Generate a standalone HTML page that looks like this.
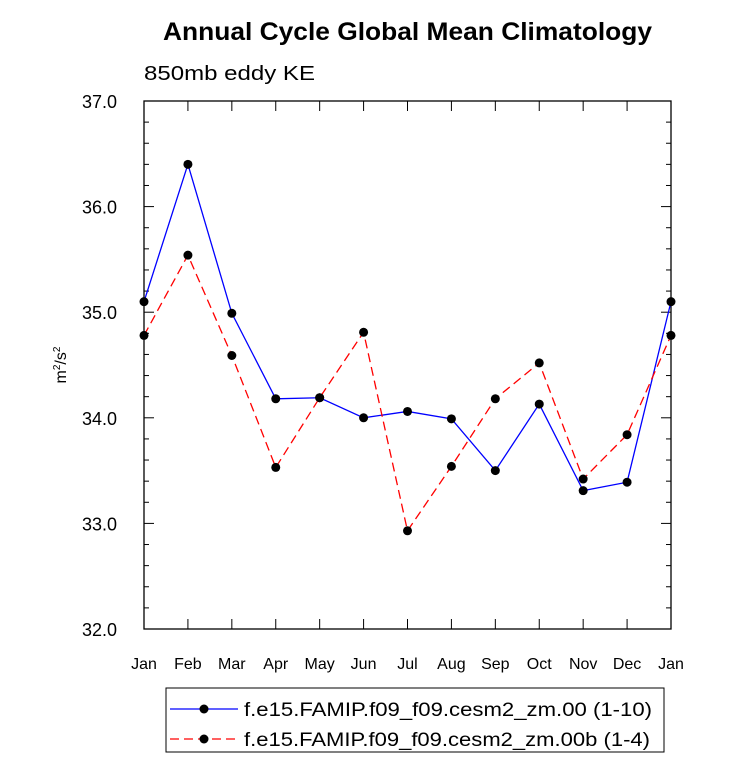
<!DOCTYPE html>
<html><head><meta charset="utf-8"><style>
body{margin:0;background:#fff;}
svg text{font-family:"Liberation Sans",Arial,sans-serif;}
</style></head><body>
<svg id="chart" width="733" height="766" xmlns="http://www.w3.org/2000/svg">
<text x="163" y="40" font-size="25" font-weight="bold" textLength="489" lengthAdjust="spacingAndGlyphs">Annual Cycle Global Mean Climatology</text>
<text x="144" y="80" font-size="20" textLength="171" lengthAdjust="spacingAndGlyphs">850mb eddy KE</text>
<text transform="translate(66,365) rotate(-90)" text-anchor="middle" font-size="16">m<tspan font-size="10" dy="-6">2</tspan><tspan dy="6">/s</tspan><tspan font-size="10" dy="-6">2</tspan></text>
<g id="axes"></g>
<g id="series"></g>
<g>
<rect x="166" y="688" width="498" height="64" fill="#fff" stroke="#000" stroke-width="1"/>
<line x1="170" y1="709" x2="238" y2="709" stroke="#0000ff" stroke-width="1.2"/>
<circle cx="204" cy="709" r="4.5" fill="#000"/>
<text x="244" y="716" font-size="19" textLength="408" lengthAdjust="spacingAndGlyphs">f.e15.FAMIP.f09_f09.cesm2_zm.00 (1-10)</text>
<line x1="170" y1="739" x2="238" y2="739" stroke="#ff0000" stroke-width="1.2" stroke-dasharray="9,5"/>
<circle cx="204" cy="739" r="4.5" fill="#000"/>
<text x="244" y="746" font-size="19" textLength="406" lengthAdjust="spacingAndGlyphs">f.e15.FAMIP.f09_f09.cesm2_zm.00b (1-4)</text>
</g>
</svg>
<script>
const months=["Jan","Feb","Mar","Apr","May","Jun","Jul","Aug","Sep","Oct","Nov","Dec","Jan"];
const seriesA=[35.10,36.40,34.99,34.18,34.19,34.00,34.06,33.99,33.50,34.13,33.31,33.39,35.10];
const seriesB=[34.78,35.54,34.59,33.53,34.19,34.81,32.93,33.54,34.18,34.52,33.42,33.84,34.78];
const yTicks=[32.0,33.0,34.0,35.0,36.0,37.0];
const yMin=32,yMax=37;
const L=144,R=671,T=101,B=629;
const NS="http://www.w3.org/2000/svg";
const xs=i=>L+(R-L)*i/(months.length-1);
const ys=v=>B-(v-yMin)/(yMax-yMin)*(B-T);
function mk(tag,attrs,parent){const e=document.createElementNS(NS,tag);for(const k in attrs)e.setAttribute(k,attrs[k]);parent.appendChild(e);return e;}
const ax=document.getElementById('axes');
const frame=mk('rect',{x:L,y:T,width:R-L,height:B-T,fill:'none',stroke:'#000','stroke-width':1.3},ax);


for(let v=yMin;v<=yMax+1e-9;v+=0.2){
  const y=ys(v);const major=Math.abs(v-Math.round(v))<1e-6;const len=major?10:5;
  mk('line',{x1:L,y1:y,x2:L+len,y2:y,stroke:'#000'},ax);
  mk('line',{x1:R,y1:y,x2:R-len,y2:y,stroke:'#000'},ax);
}
yTicks.forEach(v=>{
  const t=mk('text',{x:L-27,y:ys(v)+7,'text-anchor':'end','font-size':18},ax);
  t.textContent=v.toFixed(1);
  
  
});
months.forEach((m,i)=>{
  const x=xs(i);
  mk('line',{x1:x,y1:B,x2:x,y2:B-10,stroke:'#000'},ax);
  mk('line',{x1:x,y1:T,x2:x,y2:T+10,stroke:'#000'},ax);
  const t=mk('text',{x:x,y:B+40,'text-anchor':'middle','font-size':16},ax);
  t.textContent=m;
  
  
});
const sg=document.getElementById('series');
function draw(vals,color,dash,name){
  const g=mk('g',{},sg);
  
  
  mk('polyline',{points:vals.map((v,i)=>xs(i)+','+ys(v)).join(' '),fill:'none',stroke:color,'stroke-width':1.3,'stroke-dasharray':dash},g);
  vals.forEach((v,i)=>{
    const c=mk('circle',{cx:xs(i),cy:ys(v),r:4.5,fill:'#000'},g);
    
    
  });
}
draw(seriesA,'#0000ff','none','series-cesm2-zm-00');
draw(seriesB,'#ff0000','9,5','series-cesm2-zm-00b');
</script>
</body></html>
